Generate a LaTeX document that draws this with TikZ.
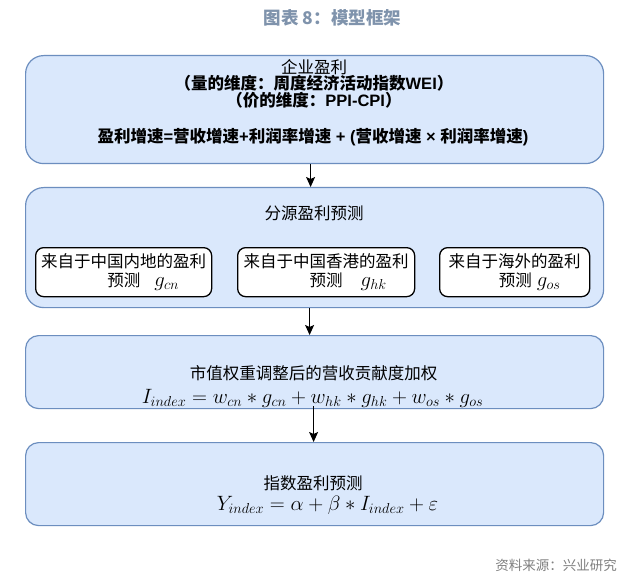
\documentclass[tikz,border=0pt]{standalone}
\usepackage{fontspec}
\setmainfont{Noto Sans CJK SC}
\newfontfamily\lat{Liberation Sans}
\usetikzlibrary{arrows.meta}
\definecolor{boxfill}{HTML}{DAE8FC}
\definecolor{boxline}{HTML}{6C8EBF}
\definecolor{titlecol}{HTML}{7F93AC}
\definecolor{srccol}{HTML}{808080}
\newcommand{\mymathbig}[1]{{\fontsize{20.5}{22}\selectfont$#1$}}
\begin{document}
\begin{tikzpicture}[x=1pt,y=-1pt,
  bigbox/.style={draw=boxline, fill=boxfill, line width=1.2pt, rounded corners=#1,
    minimum width=578pt, inner sep=0pt, anchor=north west},
  smallbox/.style={draw=black, fill=white, line width=1.3pt, rounded corners=8pt,
    minimum height=49pt, inner sep=0pt, anchor=north west, align=center,
    font=\fontsize{16.5}{19}\selectfont},
  txt/.style={inner sep=0pt, font=\fontsize{16.5}{17}\selectfont},
  btxt/.style={inner sep=0pt, font=\fontsize{16.5}{17}\selectfont\bfseries},
  mth/.style={inner sep=0pt, font=\fontsize{20.5}{22}\selectfont},
  arr/.style={-{Stealth[length=10pt,width=9pt,inset=2pt]}, line width=1.2pt, black}]
\useasboundingbox (0,0) rectangle (636,577);
\fill[white] (0,0) rectangle (636,577);

% title
\node[inner sep=0pt, text=titlecol, font=\fontsize{17.5}{20}\selectfont\bfseries] (title) at (332.5,18) {图表 8：模型框架};

% big boxes
\node[bigbox=18pt, minimum height=108pt] (b1) at (25,55) {};
\node[bigbox=18pt, minimum height=120pt] (b2) at (25,187) {};
\node[bigbox=13pt, minimum height=73pt] (b3) at (25,335) {};
\node[bigbox=13pt, minimum height=83pt] (b4) at (25,442) {};

% box 1 text
\node[txt] (t1a) at (314,67) {企业盈利};
\node[btxt] (t1b) at (314,83.5) {（量的维度：周度经济活动指数{\lat\bfseries WEI}）};
\node[btxt] (t1c) at (314,100) {（价的维度：{\lat\bfseries PPI-CPI}）};
\node[btxt] (t1d) at (313,137) {盈利增速{\lat\bfseries =}营收增速{\lat\bfseries +}利润率增速{\lat\bfseries\ + (}营收增速{\lat\bfseries\ × }利润率增速{\lat\bfseries )}};

% box 2
\node[txt] (t2) at (314,213) {分源盈利预测};
\node[smallbox, minimum width=176pt] (ia) at (35,247)
  {来自于中国内地的盈利\\\hspace*{39pt}预测\hspace{14pt}\mymathbig{g_{cn}}};
\node[smallbox, minimum width=177pt] (ib) at (237,247)
  {来自于中国香港的盈利\\\hspace*{44pt}预测\hspace{18pt}\mymathbig{g_{hk}}};
\node[smallbox, minimum width=150pt] (ic) at (439,247)
  {来自于海外的盈利\\\hspace*{30pt}预测\hspace{5pt}\mymathbig{g_{os}}};

% box 3
\node[txt] (t3) at (313.5,373) {市值权重调整后的营收贡献度加权};
\node[mth] (f3) at (312.5,398) {$I_{index} = w_{cn} \ast g_{cn} + w_{hk} \ast g_{hk} + w_{os} \ast g_{os}$};

% box 4
\node[txt] (t4) at (313,483) {指数盈利预测};
\node[mth] (f4) at (327.5,505) {$Y_{index} = \alpha + \beta \ast I_{index} + \varepsilon$};

% arrows
\draw[arr] ([xshift=-4pt]b1.south) -- ([xshift=-4pt]b2.north);
\draw[arr] ([xshift=-5pt]b2.south) -- ([xshift=-5pt]b3.north);
\draw[arr] ([xshift=-1pt,yshift=3pt]b3.south) -- ([xshift=-1pt]b4.north);

% source
\node[inner sep=0pt, anchor=east, text=srccol, font=\fontsize{13.5}{16}\selectfont] (src) at (617,565) {资料来源：兴业研究};
\end{tikzpicture}
\end{document}
